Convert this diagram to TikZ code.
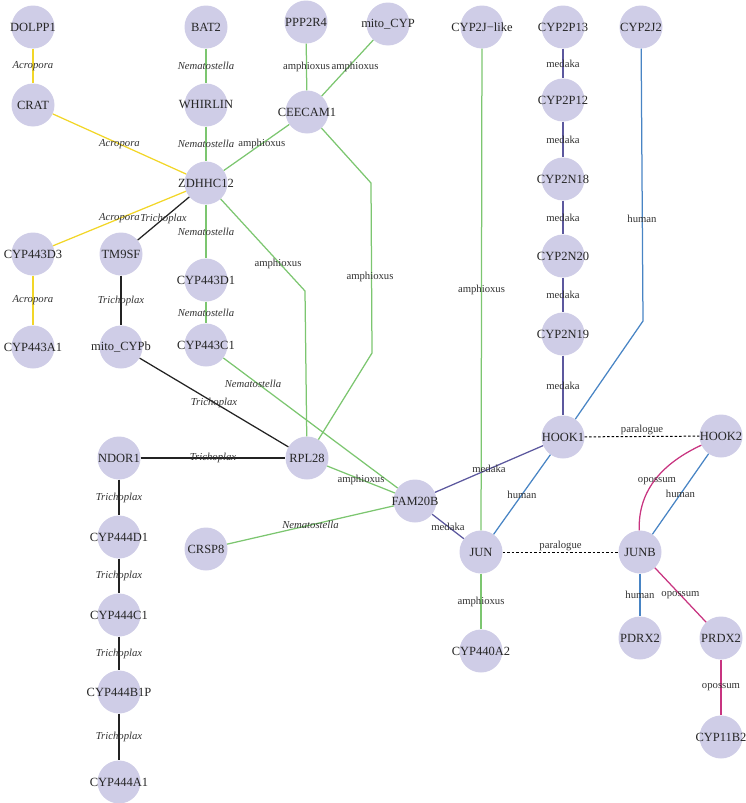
\documentclass[tikz,border=0pt]{standalone}
\usepackage{fontspec}
\setmainfont{Liberation Serif}
\definecolor{lav}{RGB}{207,205,231}
\definecolor{yel}{RGB}{242,214,40}
\definecolor{grn}{RGB}{124,198,112}
\definecolor{pur}{RGB}{92,88,158}
\definecolor{blu}{RGB}{72,132,196}
\definecolor{mag}{RGB}{200,52,128}
\definecolor{blk}{RGB}{35,35,35}
\tikzset{
  gene/.style={circle, fill=lav, minimum size=43pt, inner sep=0pt,
    label={[font=\fontsize{12.5}{14}\selectfont, text=black!85, inner sep=0pt]center:#1}},
  e/.style={line width=1.25pt},
  lab/.style={font=\fontsize{10.7}{12}\selectfont, text=black!80, inner sep=0pt},
  ilab/.style={font=\fontsize{10.7}{12}\selectfont\itshape, text=black!80, inner sep=0pt},
  para/.style={line width=1pt, dash pattern=on 2.5pt off 2pt, black},
}
\begin{document}
\begin{tikzpicture}[x=1pt,y=1pt]
\useasboundingbox (0,0) rectangle (745,-803);
% nodes
\node[gene=DOLPP1] (dolpp1) at (33,-27) {};
\node[gene=CRAT] (crat) at (33,-105) {};
\node[gene=BAT2] (bat2) at (206,-27) {};
\node[gene=WHIRLIN] (whirlin) at (206,-105) {};
\node[gene=PPP2R4] (ppp2r4) at (306,-22) {};
\node[gene=mito\_CYP] (mitocyp) at (388,-24) {};
\node[gene=CEECAM1] (ceecam) at (307,-112) {};
\node[gene=ZDHHC12] (zdhhc) at (206,-183) {};
\node[gene=CYP443D3] (cyp443d3) at (33,-254) {};
\node[gene=TM9SF] (tm9sf) at (121,-254) {};
\node[gene=CYP443D1] (cyp443d1) at (206,-280) {};
\node[gene=CYP443A1] (cyp443a1) at (33,-347) {};
\node[gene=mito\_CYPb] (mitocypb) at (121,-347) {};
\node[gene=CYP443C1] (cyp443c1) at (206,-345) {};
\node[gene=RPL28] (rpl28) at (307,-458) {};
\node[gene=NDOR1] (ndor1) at (119,-458) {};
\node[gene=CYP444D1] (cyp444d1) at (119,-537) {};
\node[gene=CYP444C1] (cyp444c1) at (119,-615) {};
\node[gene=CYP444B1P] (cyp444b1p) at (119,-692) {};
\node[gene=CYP444A1] (cyp444a1) at (119,-782) {};
\node[gene=CRSP8] (crsp8) at (206,-549) {};
\node[gene=FAM20B] (fam20b) at (415,-501) {};
\node[gene=JUN] (jun) at (481,-552) {};
\node[gene=CYP440A2] (cyp440a2) at (481,-651) {};
\node[gene=JUNB] (junb) at (640,-552) {};
\node[gene=PDRX2] (pdrx2) at (640,-638) {};
\node[gene=PRDX2] (prdx2) at (721,-638) {};
\node[gene=CYP11B2] (cyp11b2) at (721,-737) {};
\node[gene=HOOK2] (hook2) at (721,-436) {};
\node[gene=HOOK1] (hook1) at (563,-437) {};
\node[gene={CYP2J−like}] (cyp2jlike) at (482,-27) {};
\node[gene=CYP2P13] (cyp2p13) at (563,-27) {};
\node[gene=CYP2J2] (cyp2j2) at (641,-27) {};
\node[gene=CYP2P12] (cyp2p12) at (563,-100) {};
\node[gene=CYP2N18] (cyp2n18) at (563,-179) {};
\node[gene=CYP2N20] (cyp2n20) at (563,-256) {};
\node[gene=CYP2N19] (cyp2n19) at (563,-334) {};
% bend points
\coordinate (b1) at (305,-291);
\coordinate (b2) at (371,-183);
\coordinate (b3) at (372,-353);
\coordinate (b4) at (643,-321);
% Acropora (yellow)
\draw[e,yel] (dolpp1) -- node[ilab]{Acropora} (crat);
\draw[e,yel] (crat) -- node[ilab]{Acropora} (zdhhc);
\draw[e,yel] (zdhhc) -- node[ilab]{Acropora} (cyp443d3);
\draw[e,yel] (cyp443d3) -- node[ilab]{Acropora} (cyp443a1);
% Trichoplax (black)
\draw[e,blk] (zdhhc) -- node[ilab]{Trichoplax} (tm9sf);
\draw[e,blk] (tm9sf) -- node[ilab]{Trichoplax} (mitocypb);
\draw[e,blk] (mitocypb) -- node[ilab]{Trichoplax} (rpl28);
\draw[e,blk] (ndor1) -- node[ilab]{Trichoplax} (rpl28);
\draw[e,blk] (ndor1) -- node[ilab]{Trichoplax} (cyp444d1);
\draw[e,blk] (cyp444d1) -- node[ilab]{Trichoplax} (cyp444c1);
\draw[e,blk] (cyp444c1) -- node[ilab]{Trichoplax} (cyp444b1p);
\draw[e,blk] (cyp444b1p) -- node[ilab]{Trichoplax} (cyp444a1);
% Nematostella (green)
\draw[e,grn] (bat2) -- node[ilab]{Nematostella} (whirlin);
\draw[e,grn] (whirlin) -- node[ilab]{Nematostella} (zdhhc);
\draw[e,grn] (zdhhc) -- node[ilab,pos=0.5]{Nematostella} (cyp443d1);
\draw[e,grn] (cyp443d1) -- node[ilab]{Nematostella} (cyp443c1);
\draw[e,grn] (cyp443c1) -- (fam20b);
\node[ilab] (lnem1) at (253,-384) {Nematostella};
\draw[e,grn] (crsp8) -- node[ilab]{Nematostella} (fam20b);
% amphioxus (green)
\draw[e,grn] (ppp2r4) -- node[lab]{amphioxus} (ceecam);
\draw[e,grn] (mitocyp) -- (ceecam);
\node[lab] (lamph0) at (355,-67) {amphioxus};
\draw[e,grn] (ceecam) -- node[lab,pos=0.42]{amphioxus} (zdhhc);
\draw[e,grn] (zdhhc) -- (b1) -- (rpl28);
\node[lab] (lamph1) at (278,-264) {amphioxus};
\draw[e,grn] (ceecam) -- (b2) -- (b3) -- (rpl28);
\node[lab] (lamph2) at (370,-277) {amphioxus};
\draw[e,grn] (rpl28) -- node[lab]{amphioxus} (fam20b);
\draw[e,grn] (cyp2jlike) -- node[lab]{amphioxus} (jun);
\draw[e,grn] (jun) -- node[lab]{amphioxus} (cyp440a2);
% medaka (purple)
\draw[e,pur] (cyp2p13) -- node[lab]{medaka} (cyp2p12);
\draw[e,pur] (cyp2p12) -- node[lab]{medaka} (cyp2n18);
\draw[e,pur] (cyp2n18) -- node[lab]{medaka} (cyp2n20);
\draw[e,pur] (cyp2n20) -- node[lab]{medaka} (cyp2n19);
\draw[e,pur] (cyp2n19) -- node[lab]{medaka} (hook1);
\draw[e,pur] (fam20b) -- node[lab]{medaka} (hook1);
\draw[e,pur] (fam20b) -- node[lab]{medaka} (jun);
% human (blue)
\draw[e,blu] (cyp2j2) -- (b4) -- (hook1);
\node[lab] (lhum1) at (642,-219) {human};
\draw[e,blu] (hook1) -- node[lab]{human} (jun);
\draw[e,blu] (hook2) -- node[lab]{human} (junb);
\draw[e,blu] (junb) -- node[lab]{human} (pdrx2);
% opossum (magenta)
\draw[e,mag] (hook2) to[out=205,in=92] (junb);
\node[lab] (lopo1) at (657,-481) {opossum};
\draw[e,mag] (junb) -- node[lab]{opossum} (prdx2);
\draw[e,mag] (prdx2) -- node[lab]{opossum} (cyp11b2);
% paralogues
\draw[para] (hook1) -- node[lab,above=1pt]{paralogue} (hook2);
\draw[para] (jun) -- node[lab,above=1pt]{paralogue} (junb);
\end{tikzpicture}
\end{document}
